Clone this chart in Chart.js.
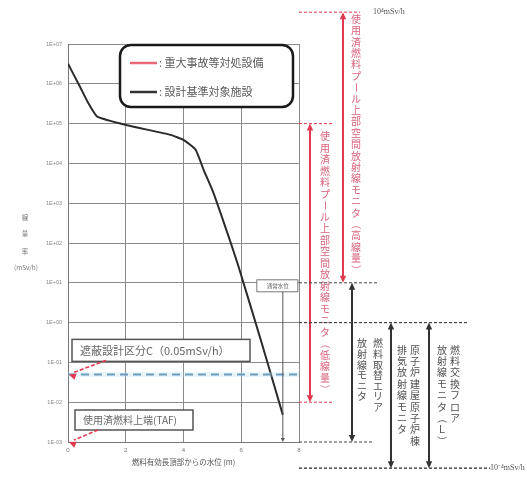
<!DOCTYPE html>
<html>
<head>
<meta charset="utf-8">
<script src="https://cdn.jsdelivr.net/npm/chart.js@4.4.0/dist/chart.umd.min.js"></script>
<style>
  html, body { margin: 0; padding: 0; background: #fff; }
  #wrap { width: 527px; height: 485px; }
</style>
</head>
<body>
<div id="wrap"><canvas id="doseChart"></canvas></div>
<script>
// water level above top of active fuel (m) vs dose rate (mSv/h)
const waterLevel = [0, 0.42, 0.7, 1.01, 2.05, 3.55, 4.0, 4.42, 4.7, 5.04, 5.57, 5.91, 6.68, 7.44];
const doseRate = [3.2e6, 8.3e5, 3.3e5, 1.5e5, 9.1e4, 5.2e4, 3.9e4, 2.2e4, 6.8e3, 1.8e3, 140, 25, 0.36, 0.0048];

const xTicks = [0, 2, 4, 6, 8];
const yExponents = [7, 6, 5, 4, 3, 2, 1, 0, -1, -2, -3];

const shieldLimit = 0.05;     // 遮蔽設計区分C
const tafDose = 1e-3;         // 使用済燃料上端
const normalLevel = 7.44;     // 通常水位

// monitors on the right side, each one a column (or two) of vertical text
const monitorNames = [
  ['使用済燃料プール上部空間放射線モニタ（高線量）'],
  ['使用済燃料プール上部空間放射線モニタ（低線量）'],
  ['燃料取替エリア', '放射線モニタ'],
  ['原子炉建屋原子炉棟', '排気放射線モニタ'],
  ['燃料交換フロア', '放射線モニタ（Ｌ）']
];
const monitorTop = [6.3e7, 1e5, 10, 1, 1];
const monitorBottom = [10, 1e-2, 1e-3, 2.2e-4, 2.2e-4];
const monitorIsSA = [true, true, false, false, false];

// layout of the right side (offsets from the plot's right edge)
const arrowOffset = [44, 11, 53, 92, 130];
const textOffset = [[57], [26], [79, 63], [116, 103], [156, 143]];
const textStep = [11.4, 11.5, 10.6, 11.4, 11.4];
const textShift = [-3, 0, 13, 0, 0];
const guideTopLen = [61, 34, 79, 168, 168];
const guideBottomLen = [0, 34, 74, 191, 191];

const RED = '#e2394f';
const RED_TEXT = '#d8617a';
const GREY_TEXT = '#505050';
const CJK = '"Noto Sans CJK JP", "Noto Sans", sans-serif';

function arrowHead(ctx, x, y, dir, color) {
  ctx.fillStyle = color;
  ctx.beginPath();
  ctx.moveTo(x, y);
  ctx.lineTo(x - 3.2, y + 7 * dir);
  ctx.lineTo(x + 3.2, y + 7 * dir);
  ctx.closePath();
  ctx.fill();
}

function verticalText(ctx, text, x, y0, step) {
  const turn = 'ー（）()';
  [...text].forEach((ch, i) => {
    const cy = y0 + i * step;
    if (turn.includes(ch)) {
      ctx.save();
      ctx.translate(x, cy);
      ctx.rotate(Math.PI / 2);
      ctx.fillText(ch, 0, 0);
      ctx.restore();
    } else {
      ctx.fillText(ch, x, cy);
    }
  });
}

function dashedLine(ctx, x1, y1, x2, y2, color, width, dash) {
  ctx.save();
  ctx.strokeStyle = color;
  ctx.lineWidth = width;
  ctx.setLineDash(dash);
  ctx.beginPath();
  ctx.moveTo(x1, y1);
  ctx.lineTo(x2, y2);
  ctx.stroke();
  ctx.restore();
}

function roundRect(ctx, x, y, w, h, r) {
  ctx.beginPath();
  ctx.moveTo(x + r, y);
  ctx.arcTo(x + w, y, x + w, y + h, r);
  ctx.arcTo(x + w, y + h, x, y + h, r);
  ctx.arcTo(x, y + h, x, y, r);
  ctx.arcTo(x, y, x + w, y, r);
  ctx.closePath();
}

function labelBox(ctx, text, x, y, w, h, size) {
  ctx.fillStyle = '#fff';
  ctx.fillRect(x, y, w, h);
  ctx.strokeStyle = '#555';
  ctx.lineWidth = 1.5;
  ctx.strokeRect(x, y, w, h);
  ctx.fillStyle = '#666';
  ctx.font = size + 'px ' + CJK;
  ctx.textAlign = 'left';
  ctx.textBaseline = 'middle';
  ctx.fillText(text, x + 8, y + h / 2 + 0.5);
}

const decorations = {
  id: 'decorations',
  afterDraw(chart) {
    const { ctx, chartArea: area, scales: { x, y } } = chart;
    ctx.save();

    // y axis title, stacked characters
    ctx.fillStyle = '#777';
    ctx.textAlign = 'center';
    ctx.textBaseline = 'middle';
    ctx.font = '6.5px ' + CJK;
    const midY = (area.top + area.bottom) / 2;
    ctx.fillText('線', 25, midY - 25);
    ctx.fillText('量', 25, midY - 9);
    ctx.fillText('率', 25, midY + 9);
    ctx.fillText('(mSv/h)', 26, midY + 25);

    // legend box
    const lx = area.left + 52, ly = area.top + 1;
    ctx.fillStyle = '#fff';
    roundRect(ctx, lx, ly, 173, 62, 11);
    ctx.fill();
    ctx.strokeStyle = '#1a1a1a';
    ctx.lineWidth = 2.5;
    ctx.stroke();
    ctx.lineWidth = 2.5;
    ctx.strokeStyle = '#e86878';
    ctx.beginPath(); ctx.moveTo(lx + 10, ly + 18); ctx.lineTo(lx + 37, ly + 18); ctx.stroke();
    ctx.strokeStyle = '#333';
    ctx.beginPath(); ctx.moveTo(lx + 10, ly + 47); ctx.lineTo(lx + 37, ly + 47); ctx.stroke();
    ctx.fillStyle = '#5a5a5a';
    ctx.font = '11px ' + CJK;
    ctx.textAlign = 'left';
    ctx.fillText(': 重大事故等対処設備', lx + 39, ly + 18);
    ctx.fillText(': 設計基準対象施設', lx + 39, ly + 47);

    // shielding class box + arrow to axis
    const yShield = y.getPixelForValue(shieldLimit);
    labelBox(ctx, '遮蔽設計区分C（0.05mSv/h）', area.left + 4, yShield - 35, 178, 22, 11);
    dashedLine(ctx, area.left + 38, yShield - 14, area.left + 6, yShield - 2, RED, 1.6, [4, 2]);
    ctx.save();
    ctx.translate(area.left + 1, yShield);
    ctx.rotate(Math.atan2(-12, -32) + Math.PI / 2);
    arrowHead(ctx, 0, 0, 1, RED);
    ctx.restore();

    // TAF box + arrow
    const yTaf = y.getPixelForValue(tafDose);
    labelBox(ctx, '使用済燃料上端(TAF)', area.left + 7, yTaf - 32, 118, 20, 10);
    dashedLine(ctx, area.left + 30, yTaf - 12, area.left + 6, yTaf - 2, RED, 1.6, [4, 2]);
    ctx.save();
    ctx.translate(area.left + 1, yTaf);
    ctx.rotate(Math.atan2(-10, -24) + Math.PI / 2);
    arrowHead(ctx, 0, 0, 1, RED);
    ctx.restore();

    // normal water level marker
    const xNorm = x.getPixelForValue(normalLevel);
    const yNorm = y.getPixelForValue(10) + 3;
    ctx.fillStyle = '#fff';
    ctx.fillRect(xNorm - 26, yNorm - 6, 41, 12);
    ctx.strokeStyle = '#777';
    ctx.lineWidth = 1;
    ctx.strokeRect(xNorm - 26, yNorm - 6, 41, 12);
    ctx.fillStyle = '#666';
    ctx.font = '5.5px ' + CJK;
    ctx.textAlign = 'center';
    ctx.fillText('通常水位', xNorm - 5, yNorm);
    ctx.strokeStyle = '#555';
    ctx.beginPath(); ctx.moveTo(xNorm, yNorm + 6); ctx.lineTo(xNorm, area.bottom - 3); ctx.stroke();
    ctx.fillStyle = '#555';
    ctx.beginPath();
    ctx.moveTo(xNorm, area.bottom); ctx.lineTo(xNorm - 2, area.bottom - 4); ctx.lineTo(xNorm + 2, area.bottom - 4);
    ctx.fill();

    // monitors
    monitorNames.forEach((cols, i) => {
      const yT = y.getPixelForValue(monitorTop[i]);
      const yB = y.getPixelForValue(monitorBottom[i]);
      const lineColor = monitorIsSA[i] ? RED : '#333';
      const guideColor = monitorIsSA[i] ? RED : '#444';
      if (guideTopLen[i]) dashedLine(ctx, area.right, yT, area.right + guideTopLen[i], yT, guideColor, 1, [3, 2]);
      if (guideBottomLen[i]) dashedLine(ctx, area.right, yB, area.right + guideBottomLen[i], yB, guideColor, 1, [3, 2]);
      const ax = area.right + arrowOffset[i];
      ctx.strokeStyle = lineColor;
      ctx.lineWidth = 2;
      ctx.setLineDash([]);
      ctx.beginPath(); ctx.moveTo(ax, yT + 5); ctx.lineTo(ax, yB - 5); ctx.stroke();
      arrowHead(ctx, ax, yT, 1, lineColor);
      arrowHead(ctx, ax, yB, -1, lineColor);

      ctx.fillStyle = monitorIsSA[i] ? RED_TEXT : GREY_TEXT;
      ctx.font = '10px ' + CJK;
      ctx.textAlign = 'center';
      ctx.textBaseline = 'middle';
      const maxN = Math.max(...cols.map(c => [...c].length));
      const y0 = (yT + yB) / 2 - (maxN - 1) * textStep[i] / 2 + textShift[i];
      cols.forEach((c, k) => verticalText(ctx, c, area.right + textOffset[i][k], y0, textStep[i]));
    });

    // range labels
    ctx.fillStyle = '#555';
    ctx.font = '8px "Liberation Serif", serif';
    ctx.textAlign = 'left';
    ctx.fillText('10⁴mSv/h', area.right + 74, y.getPixelForValue(monitorTop[0]));
    ctx.fillText('10⁻⁴mSv/h', area.right + 191, y.getPixelForValue(monitorBottom[3]));

    ctx.restore();
  }
};

const curvePoints = waterLevel.map((w, i) => ({ x: w, y: doseRate[i] }));

new Chart(document.getElementById('doseChart'), {
  type: 'line',
  data: {
    datasets: [
      {
        data: [{ x: 0, y: shieldLimit }, { x: 8, y: shieldLimit }],
        borderColor: 'rgba(180, 222, 242, 0.3)',
        borderWidth: 5,
        pointRadius: 0
      },
      {
        data: [{ x: 0, y: shieldLimit }, { x: 8, y: shieldLimit }],
        borderColor: '#4f7fa6',
        borderWidth: 2,
        borderDash: [8, 5],
        pointRadius: 0
      },
      {
        data: curvePoints,
        borderColor: '#2b2b2b',
        borderWidth: 2,
        pointRadius: 0,
        tension: 0.15
      }
    ]
  },
  options: {
    responsive: true,
    maintainAspectRatio: false,
    animation: false,
    layout: { padding: { top: 44, right: 228, bottom: 0, left: 0 } },
    plugins: {
      legend: { display: false },
      tooltip: { enabled: false }
    },
    scales: {
      x: {
        type: 'linear',
        min: 0,
        max: 8,
        afterBuildTicks: s => { s.ticks = xTicks.map(v => ({ value: v })); },
        afterFit: s => { s.height = 43; },
        grid: { color: '#8a8a8a', drawTicks: false },
        border: { color: '#777' },
        ticks: { padding: 5, color: '#777', font: { size: 6 } },
        title: {
          display: true,
          text: '燃料有効長頂部からの水位 (m)',
          color: '#555',
          font: { size: 7.5, family: CJK },
          padding: { top: 0, bottom: 18 }
        }
      },
      y: {
        type: 'logarithmic',
        min: 1e-3,
        max: 1e7,
        afterBuildTicks: s => { s.ticks = yExponents.map(e => ({ value: Math.pow(10, e) })); },
        afterFit: s => { s.width = 68; },
        grid: { color: '#8a8a8a', drawTicks: false },
        border: { color: '#777' },
        ticks: {
          padding: 6,
          color: '#888',
          autoSkip: false,
          font: { size: 5.5 },
          callback: v => {
            const e = Math.round(Math.log10(v));
            return '1E' + (e < 0 ? '-' : '+') + String(Math.abs(e)).padStart(2, '0');
          }
        }
      }
    }
  },
  plugins: [decorations]
});
</script>
</body>
</html>
